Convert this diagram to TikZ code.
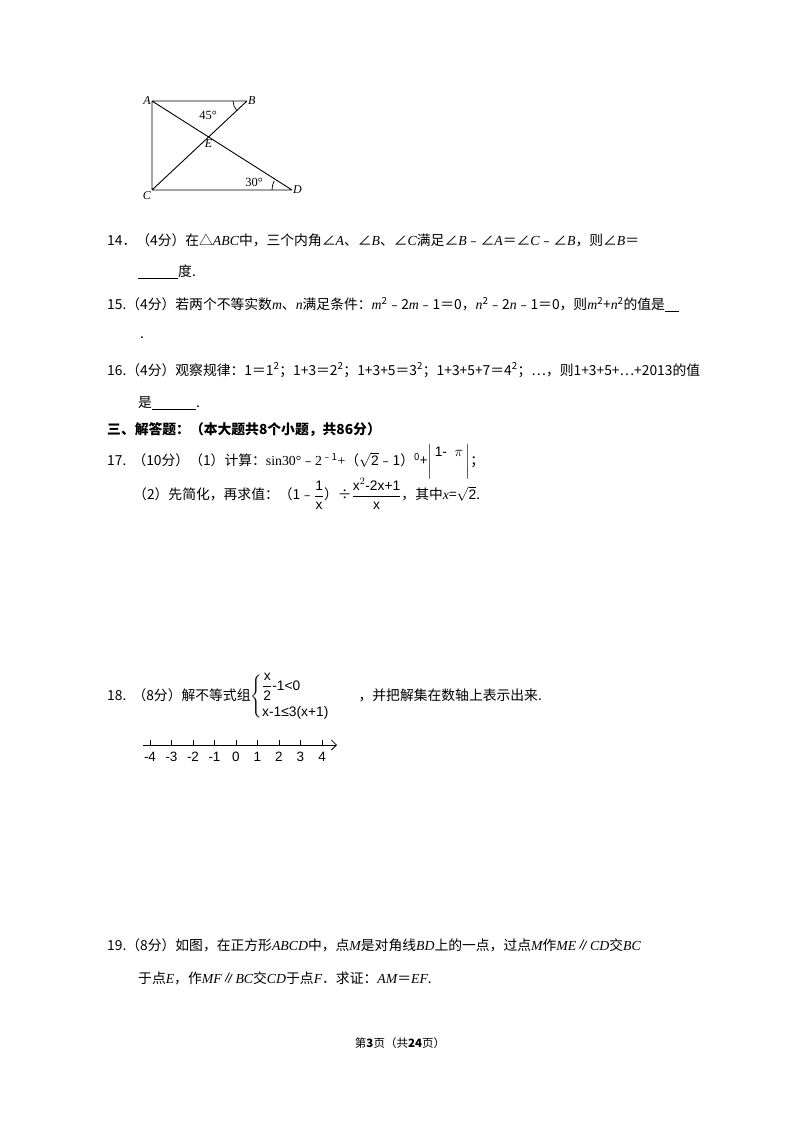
\documentclass[tikz,border=0pt]{standalone}
\usepackage{amsmath}
\usepackage{fontspec}
\usetikzlibrary{calc,arrows.meta}
\setmainfont{Noto Sans CJK SC}
\newfontfamily\ls{Liberation Serif}
\newfontfamily\lsans{Liberation Sans}
\newcommand{\iv}[1]{{\ls\itshape #1}}
\newcommand{\rv}[1]{{\ls #1}}
\newcommand{\blank}[1]{\underline{\hbox to #1{}}}
\begin{document}
\begin{tikzpicture}[x=1pt,y=-1pt,
  txt/.style={anchor=west,inner sep=0pt,font=\fontsize{13.8}{16}\selectfont},
  lab/.style={inner sep=1pt,font=\fontsize{12}{14}\selectfont\ls\itshape},
  seg/.style={line width=0.9pt}]
\useasboundingbox[fill=white] (0,0) rectangle (800,1132);
% figure
\coordinate (A) at (152,101);
\coordinate (B) at (247,101);
\coordinate (C) at (152,190);
\coordinate (D) at (292,190);
\draw[seg] (A)--(B) (A)--(C) (C)--(D) (A)--(D) (C)--(B);
\coordinate (E) at (intersection of A--D and C--B);
\node[lab,left] (lA) at (A) {A};
\node[lab,right] (lB) at (B) {B};
\node[lab,below left] (lC) at (C) {C};
\node[lab,right] (lD) at (D) {D};
\node[lab,below=1pt] (lE) at (E) {E};
\node[lab,font=\fontsize{12.5}{14}\selectfont\ls] (a45) at (208,115) {45°};
\node[lab,font=\fontsize{12.5}{14}\selectfont\ls] (a30) at (254,182) {30°};
\draw[seg,line width=0.7pt] ($(B)+(-14,0)$) arc[start angle=180,end angle=137,radius=14];
\draw[seg,line width=0.7pt] ($(D)+(-20,0)$) arc[start angle=180,end angle=207,radius=20];
% text
\node[txt] (t14) at (107,240) {14．（4分）在△\iv{ABC}中，三个内角∠\iv{A}、∠\iv{B}、∠\iv{C}满足∠\iv{B}﹣∠\iv{A}＝∠\iv{C}﹣∠\iv{B}，则∠\iv{B}＝};
\node[txt] (t14b) at (138,272) {\blank{40pt}度.};
\node[txt] (t15) at (107,305) {15.（4分）若两个不等实数\iv{m}、\iv{n}满足条件：\iv{m}\textsuperscript{2}﹣2\iv{m}﹣1＝0，\iv{n}\textsuperscript{2}﹣2\iv{n}﹣1＝0，则\iv{m}\textsuperscript{2}+\iv{n}\textsuperscript{2}的值是\blank{14pt}};
\node[txt] (t15b) at (140,338) {.};
\node[txt] (t16) at (107,370) {16.（4分）观察规律：1＝1\textsuperscript{2}；1+3＝2\textsuperscript{2}；1+3+5＝3\textsuperscript{2}；1+3+5+7＝4\textsuperscript{2}；…，则1+3+5+…+2013的值};
\node[txt] (t16b) at (138,403) {是\blank{44pt}.};
\node[txt,font=\fontsize{13.8}{16}\selectfont\bfseries] (t3) at (107,430) {三、解答题：（本大题共8个小题，共86分）};
\node[txt] (t17) at (107,462) {17.\ \ （10分）（1）计算：\rv{sin30°}﹣\rv{2}\textsuperscript{﹣1}\rv{+}（$\sqrt{\hbox{\lsans 2}}$﹣1）\textsuperscript{0}+\raisebox{0pt}{$\left|\vphantom{\rule[-8pt]{0pt}{26pt}}\,\raisebox{9pt}{\hbox{\lsans 1-\ \ $\pi$}}\,\right|$}；};
\node[txt] (t17b) at (133,494) {（2）先简化，再求值：（1﹣$\dfrac{\hbox{\lsans 1}}{\hbox{\lsans x}}$）÷$\dfrac{\hbox{\lsans x$^2$-2x+1}}{\hbox{\lsans x}}$，其中\iv{x}=$\sqrt{\hbox{\lsans 2}}$.};
\node[txt] (t18) at (107,697) {18.\ \ （8分）解不等式组$\left\{\begin{array}{@{}l}\dfrac{\hbox{\lsans x}}{\hbox{\lsans 2}}\hbox{\lsans -1<0}\\[10pt]\hbox{\lsans x-1≤3(x+1)}\end{array}\right.$\hspace{24pt}，并把解集在数轴上表示出来.};
% number line
\coordinate (n0) at (143,745);
\coordinate (n1) at (337,745);
\draw[line width=0.8pt,-{Straight Barb[length=5pt]}] (n0)--(n1);
\foreach \v [count=\i from 0] in {-4,-3,-2,-1,0,1,2,3,4}{
  \draw[line width=0.6pt] (150+\i*21.5,745)--(150+\i*21.5,740);
  \node[inner sep=0pt,font=\fontsize{13.5}{15}\selectfont\lsans] (nl\i) at (150+\i*21.5,757) {\v};
}
\node[txt] (t19) at (107,945) {19.（8分）如图，在正方形\iv{ABCD}中，点\iv{M}是对角线\iv{BD}上的一点，过点\iv{M}作\iv{ME}∥\iv{CD}交\iv{BC}};
\node[txt] (t19b) at (138,978) {于点\iv{E}，作\iv{MF}∥\iv{BC}交\iv{CD}于点\iv{F}．求证：\iv{AM}＝\iv{EF}.};
\node[inner sep=0pt,font=\fontsize{11.5}{13}\selectfont] (foot) at (400,1043) {第\textbf{3}页（共\textbf{24}页）};
\end{tikzpicture}
\end{document}
